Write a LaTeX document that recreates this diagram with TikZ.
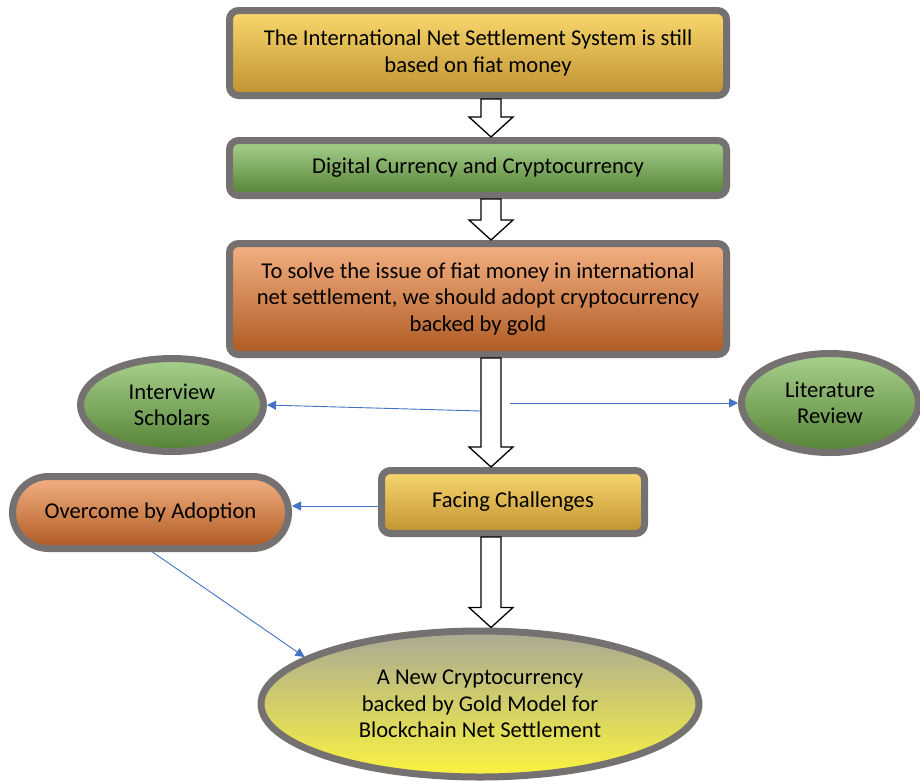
\documentclass[tikz,border=0pt]{standalone}
\usepackage{fontspec}
\setmainfont{Carlito}
\usepackage{tikz}
\usetikzlibrary{arrows.meta}
\usetikzlibrary{calc}
\usetikzlibrary{shapes.geometric}

\definecolor{bordergray}{HTML}{767171}
\definecolor{linkblue}{HTML}{4472C4}
\definecolor{yeltop}{HTML}{FAD86E}
\definecolor{yelmid}{HTML}{F3C23F}
\definecolor{yelbot}{HTML}{BF9231}
\definecolor{grntop}{HTML}{A9D18E}
\definecolor{grnmid}{HTML}{76B04E}
\definecolor{grnbot}{HTML}{548235}
\definecolor{orgtop}{HTML}{F4B183}
\definecolor{orgmid}{HTML}{E07C3A}
\definecolor{orgbot}{HTML}{AE5A21}
\definecolor{goldtop}{HTML}{A9A994}
\definecolor{goldmid}{HTML}{D9D462}
\definecolor{goldbot}{HTML}{FBF43F}

\tikzset{
    box/.style={draw=bordergray, line width=7pt, rounded corners=9pt, align=center,
        inner sep=0pt, font=\fontsize{22.6}{26.5}\selectfont},
    oval/.style={box, ellipse, rounded corners=0pt},
    yellowfill/.style={top color=yeltop, middle color=yelmid, bottom color=yelbot},
    greenfill/.style={top color=grntop, middle color=grnmid, bottom color=grnbot},
    orangefill/.style={top color=orgtop, middle color=orgmid, bottom color=orgbot},
    goldfill/.style={top color=goldtop, middle color=goldmid, bottom color=goldbot},
    link/.style={linkblue, line width=0.9pt, -{Triangle[length=9pt,width=9pt]}},
}

% hollow block arrow from the bottom of #1 to the top of #2
\newcommand{\hollowarrow}[2]{%
    \draw[black, line width=1.3pt, fill=white, line join=miter]
    let \p1=(#1.south -| spine), \p2=(#2.north -| spine) in
    (\x1-10pt,\y1) -- (\x1+10pt,\y1) -- (\x1+10pt,\y2+20pt) -- (\x1+22pt,\y2+20pt)
    -- (\x1,\y2) -- (\x1-22pt,\y2+20pt) -- (\x1-10pt,\y2+20pt) -- cycle;}

\begin{document}
\begin{tikzpicture}[x=1pt,y=-1pt]
    \useasboundingbox (0,0) rectangle (920,780);
    \coordinate (spine) at (491,0);% axis of the big arrows

    \node[box, yellowfill, minimum width=497pt, minimum height=85pt] (fiat) at (478,53)
    {The International Net Settlement System is still\\based on fiat money};
    \node[box, greenfill, minimum width=497pt, minimum height=55pt] (digital) at (478,168)
    {Digital Currency and Cryptocurrency};
    \node[box, orangefill, minimum width=497pt, minimum height=111pt] (solve) at (478,299)
    {To solve the issue of fiat money in international\\net settlement, we should adopt cryptocurrency\\backed by gold};

    \node[oval, greenfill, minimum width=183pt, minimum height=93pt] (interview) at (172,405)
    {Interview\\Scholars};
    \node[oval, greenfill, minimum width=177pt, minimum height=99pt] (literature) at (830,403)
    {Literature\\Review};

    \node[box, yellowfill, minimum width=263pt, minimum height=63pt] (facing) at (513,502)
    {Facing Challenges};
    \node[box, orangefill, rounded corners=36pt, minimum width=276pt, minimum height=72pt]
    (overcome) at (150.5,512.5) {Overcome by Adoption};

    \node[oval, goldfill, minimum width=438pt, minimum height=146pt] (model) at (480,704)
    {A New Cryptocurrency\\backed by Gold Model for\\Blockchain Net Settlement};

    % blue links
    \coordinate (leftfoot) at (481,411);
    \coordinate (rightfoot) at (510,403);
    \draw[link] (leftfoot) -- (interview.east);
    \draw[link] (rightfoot) -- (literature.west);
    \draw[link] ([yshift=-4pt]facing.west) -- ([yshift=-4pt]facing.west -| overcome.east);
    \draw[link] ([xshift=2pt]overcome.south) -- (model.165);

    % big arrows
    \hollowarrow{fiat}{digital}
    \hollowarrow{digital}{solve}
    \hollowarrow{solve}{facing}
    \hollowarrow{facing}{model}
\end{tikzpicture}
\end{document}
